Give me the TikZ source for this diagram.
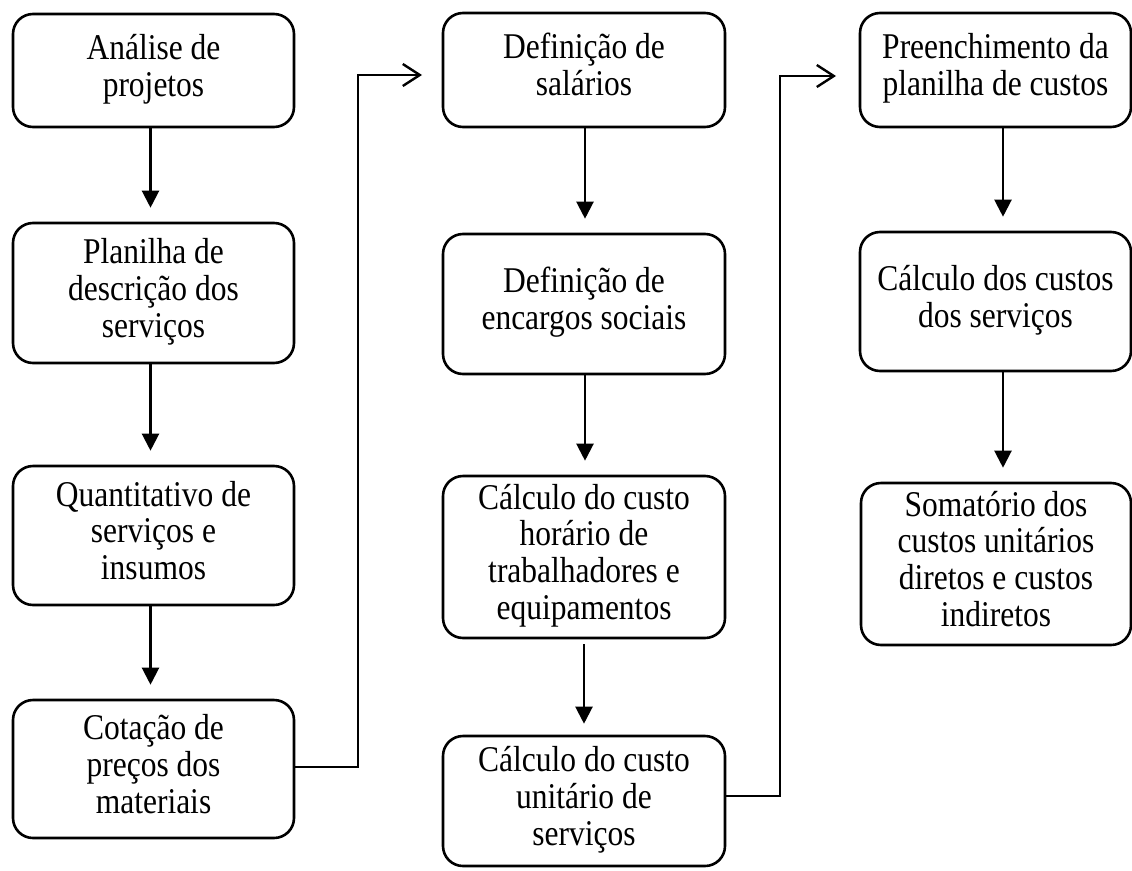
\documentclass[tikz,border=0pt]{standalone}
\usepackage{fontspec}
\usepackage{graphicx}
\setmainfont{Liberation Serif}
\usetikzlibrary{arrows.meta}
\newcommand{\vstr}[1]{\scalebox{1}[1.15]{\begin{tabular}{@{}c@{}}#1\end{tabular}}}
\begin{document}
\begin{tikzpicture}[x=1pt,y=-1pt,
  box/.style={draw, line width=2.6pt, rounded corners=20pt, inner sep=0pt, align=center,
    font=\fontsize{31.5}{32}\selectfont},
  flow/.style={line width=2.2pt, -{Triangle[width=17pt,length=17pt]}, shorten >=14pt},
  jump/.style={line width=2.4pt, -{Straight Barb[length=17pt,width=22pt,line width=2.4pt]}}
]
\useasboundingbox (0,0) rectangle (1132,870);
% column 1
\node[box, minimum width=281pt, minimum height=113pt] (a1) at (153.5,70.5) {\vstr{Análise de\\projetos}};
\node[box, minimum width=281pt, minimum height=140pt] (a2) at (153.5,293) {\vstr{Planilha de\\descrição dos\\serviços}};
\node[box, minimum width=281pt, minimum height=139pt] (a3) at (153.5,535.5) {\vstr{Quantitativo de\\serviços e\\insumos}};
\node[box, minimum width=281pt, minimum height=138pt] (a4) at (153.5,769) {\vstr{Cotação de\\preços dos\\materiais}};
% column 2
\node[box, minimum width=282pt, minimum height=114pt] (b1) at (584,70) {\vstr{Definição de\\salários}};
\node[box, minimum width=282pt, minimum height=140pt] (b2) at (584,304) {\vstr{Definição de\\encargos sociais}};
\node[box, minimum width=282pt, minimum height=162pt] (b3) at (584,557) {\vstr{Cálculo do custo\\horário de\\trabalhadores e\\equipamentos}};
\node[box, minimum width=282pt, minimum height=130pt] (b4) at (584,801) {\vstr{Cálculo do custo\\unitário de\\serviços}};
% column 3
\node[box, minimum width=271pt, minimum height=114pt] (c1) at (995.5,70) {\vstr{Preenchimento da\\planilha de custos}};
\node[box, minimum width=271pt, minimum height=139pt] (c2) at (995.5,301.5) {\vstr{Cálculo dos custos\\dos serviços}};
\node[box, minimum width=270pt, minimum height=162pt] (c3) at (996,564) {\vstr{Somatório dos\\custos unitários\\diretos e custos\\indiretos}};
% vertical arrows
\draw[flow] ([xshift=-3pt]a1.south) -- ([xshift=-3pt]a2.north);
\draw[flow] ([xshift=-3pt]a2.south) -- ([xshift=-3pt]a3.north);
\draw[flow] ([xshift=-3pt]a3.south) -- ([xshift=-3pt]a4.north);
\draw[flow] ([xshift=1pt]b1.south) -- ([xshift=1pt]b2.north);
\draw[flow] ([xshift=1pt]b2.south) -- ([xshift=1pt]b3.north);
\draw[flow, shorten <=5pt, shorten >=11pt] (b3.south) -- (b4.north);
\draw[flow] ([xshift=7.5pt]c1.south) -- ([xshift=7.5pt]c2.north);
\draw[flow] ([xshift=7.5pt]c2.south) -- ([xshift=7pt]c3.north);
% jump connectors
\coordinate (k1) at (358,75);
\coordinate (t1) at (422,75);
\draw[jump] ([yshift=2pt]a4.east) -| (k1) -- (t1);
\coordinate (k2) at (780,76);
\coordinate (t2) at (836,76);
\draw[jump] ([yshift=5pt]b4.east) -| (k2) -- (t2);
\end{tikzpicture}
\end{document}
